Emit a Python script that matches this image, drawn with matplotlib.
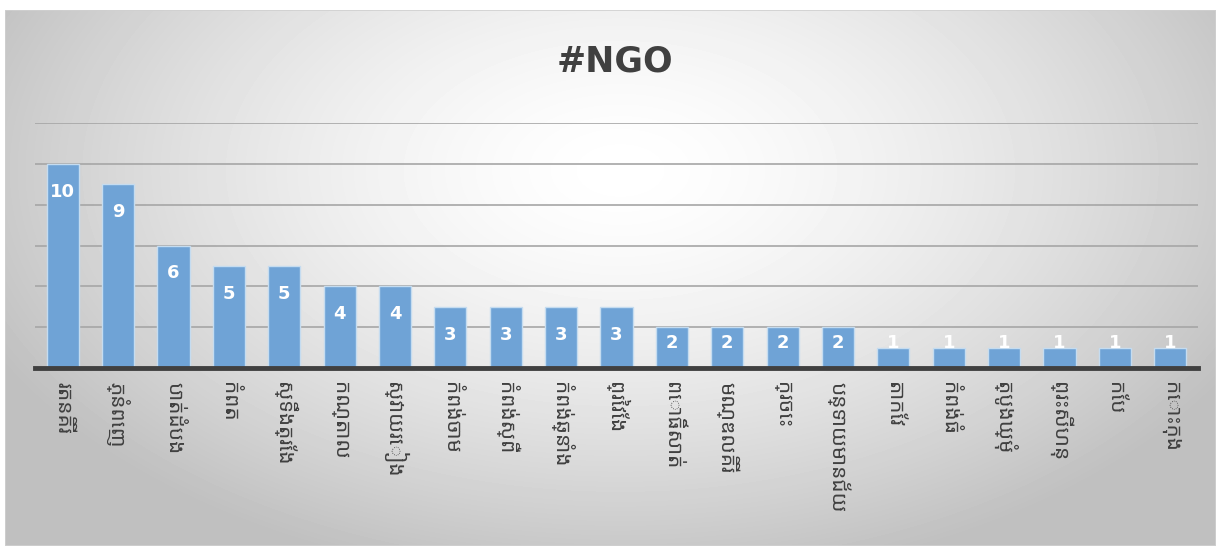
import numpy as np
import matplotlib
matplotlib.use('Agg')
import matplotlib.pyplot as plt
from matplotlib import font_manager

# provinces (Khmer) and number of NGOs
provinces = ['រតនគិរី', 'ភ្នំពេញ', 'បាត់ដំបង', 'កំពត', 'ស្ទឹងត្រែង', 'កណ្តាល',
             'ស្វាយរៀង', 'កំពង់ចាម', 'កំពង់ស្ពឺ', 'កំពង់ឆ្នាំង', 'ព្រៃវែង',
             'ពោធិ៍សាត់', 'មណ្ឌលគិរី', 'ក្រចេះ', 'បន្ទាយមានជ័យ', 'តាកែវ',
             'កំពង់ធំ', 'ត្បូងឃ្មុំ', 'ព្រះសីហនុ', 'កែប', 'កោះកុង']
ngo_counts = [10, 9, 6, 5, 5, 4, 4, 3, 3, 3, 3, 2, 2, 2, 2, 1, 1, 1, 1, 1, 1]

# pick a Khmer-capable font if one happens to be installed
installed = {f.name for f in font_manager.fontManager.ttflist}
khmer_fonts = [f for f in ['Noto Sans Khmer', 'Noto Serif Khmer', 'Khmer OS', 'Khmer OS System', 'Hanuman']
               if f in installed]
label_family = khmer_fonts + ['DejaVu Sans']

W, H = 1216, 546
fig = plt.figure(figsize=(W / 100, H / 100), dpi=100)
fig.patch.set_facecolor('white')

# radial grey gradient background of the chart area
bg = fig.add_axes([5 / W, 0, 1 - 5 / W, 1 - 10 / H], zorder=0)
yy, xx = np.mgrid[0:536, 0:1211]
r = np.sqrt(((xx - 615) / 720.0) ** 2 + ((yy - 160) / 430.0) ** 2)
shade = np.clip(1.0 - 0.26 * r ** 1.5, 0.75, 1.0)
bg.imshow(shade, cmap='gray', vmin=0, vmax=1, aspect='auto', interpolation='bilinear')
bg.set_axis_off()
frame = plt.Rectangle((0, 0), 1, 1, transform=bg.transAxes, fill=False,
                      edgecolor='#d0d0d0', linewidth=1.2)
bg.add_patch(frame)

ax = fig.add_axes([35 / W, 1 - 368 / H, (1198 - 35) / W, (368 - 123) / H], zorder=1)
ax.patch.set_alpha(0)
x = np.arange(len(provinces))
ax.bar(x, ngo_counts, width=0.58, color='#6fa3d6', edgecolor='#c5dcf0', linewidth=1.0, zorder=3)

ax.set_xlim(-0.5, len(provinces) - 0.5)
ax.set_ylim(0, 12)
ax.set_yticks(np.arange(2, 13, 2))
ax.yaxis.grid(True, color='#a6a6a6', linewidth=1.2, zorder=0)
ax.tick_params(axis='y', length=0, labelleft=False)
ax.tick_params(axis='x', length=0, pad=10)
for s in ['top', 'right', 'left']:
    ax.spines[s].set_visible(False)
ax.spines['bottom'].set_color('#404040')
ax.spines['bottom'].set_linewidth(3.5)
ax.spines['bottom'].set_zorder(4)

ax.set_xticks(x)
ax.set_xticklabels(provinces, rotation=-90, fontsize=15, color='#404040',
                   family=label_family, va='top', ha='center')

for xi, v in zip(x, ngo_counts):
    ax.text(xi, max(v - 1.37, 1.22), str(v), ha='center', va='center',
            color='white', fontsize=13, fontweight='bold', zorder=5)

fig.text(615 / W, 1 - 62 / H, '#NGO', ha='center', va='center',
         fontsize=25, fontweight='bold', color='#404040')

fig.savefig('out.png', dpi=100)
